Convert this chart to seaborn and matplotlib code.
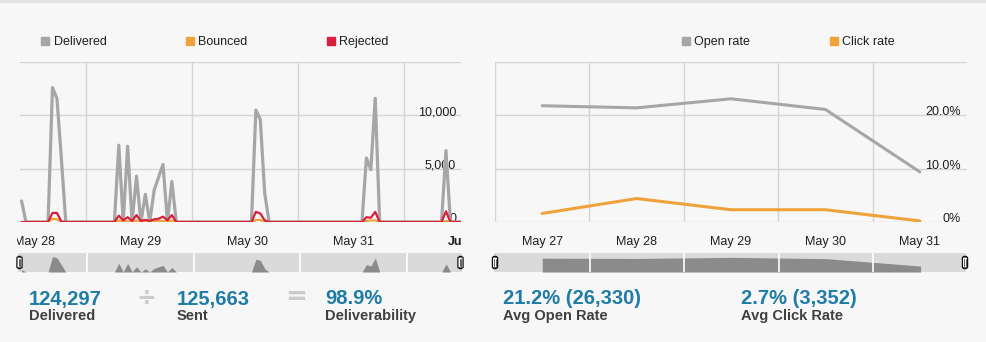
import matplotlib
matplotlib.use("Agg")
import matplotlib.pyplot as plt
import seaborn as sns
import numpy as np
import pandas as pd
from matplotlib.lines import Line2D
from matplotlib.patches import Rectangle, FancyBboxPatch
from matplotlib.transforms import Bbox, TransformedBbox

# ---------------- data ----------------
# hours relative to May 28 00:00 (hourly samples)
hours = list(range(-3, 98))
delivered = [
    1970, 0, 0,                                                            # May 27 21-23h
    0, 0, 0, 0, 12600, 11600, 6000, 0, 0, 0, 0, 0,                         # May 28 0-11
    0, 0, 0, 0, 0, 0, 0, 7200, 0, 7100, 0, 4300,                           # May 28 12-23
    0, 2600, 0, 3000, 4200, 5400, 0, 3800, 0, 0, 0, 0,                     # May 29 0-11
    0, 0, 0, 0, 0, 0, 0, 0, 0, 0, 0, 0,                                    # May 29 12-23
    0, 0, 10500, 9600, 2700, 0, 0, 0, 0, 0, 0, 0,                          # May 30 0-11
    0, 0, 0, 0, 0, 0, 0, 0, 0, 0, 0, 0,                                    # May 30 12-23
    0, 0, 0, 6000, 4900, 11600, 0, 0, 0, 0, 0, 0,                          # May 31 0-11
    0, 0, 0, 0, 0, 0, 0, 0, 0, 6700, 0, 0,                                 # May 31 12-23
    0, 0,                                                                  # Jun 1
]
bounced = [
    0, 0, 0,
    0, 0, 0, 0, 300, 250, 0, 0, 0, 0, 0, 0,
    0, 0, 0, 0, 0, 0, 0, 150, 0, 80, 0, 150,
    0, 80, 0, 80, 80, 100, 0, 150, 0, 0, 0, 0,
    0, 0, 0, 0, 0, 0, 0, 0, 0, 0, 0, 0,
    0, 0, 200, 200, 0, 0, 0, 0, 0, 0, 0, 0,
    0, 0, 0, 0, 0, 0, 0, 0, 0, 0, 0, 0,
    0, 0, 0, 100, 150, 150, 0, 0, 0, 0, 0, 0,
    0, 0, 0, 0, 0, 0, 0, 0, 0, 100, 0, 0,
    0, 0,
]
rejected = [
    0, 0, 0,
    0, 0, 0, 0, 850, 850, 50, 0, 0, 0, 0, 0,
    0, 0, 0, 0, 0, 0, 0, 600, 150, 450, 100, 650,
    100, 200, 100, 250, 300, 500, 150, 650, 0, 0, 0, 0,
    0, 0, 0, 0, 0, 0, 0, 0, 0, 0, 0, 0,
    0, 0, 950, 800, 150, 0, 0, 0, 0, 0, 0, 0,
    0, 0, 0, 0, 0, 0, 0, 0, 0, 0, 0, 0,
    0, 0, 0, 450, 400, 950, 0, 0, 0, 0, 0, 0,
    0, 0, 0, 0, 0, 0, 0, 0, 0, 1000, 0, 0,
    0, 0,
]
day_ticks = [0, 24, 48, 72, 96]
day_labels = ["May 28", "May 29", "May 30", "May 31", "Jun"]
count_ticks = [0, 5000, 10000]
count_labels = ["0", "5,000", "10,000"]

rate_days = ["May 27", "May 28", "May 29", "May 30", "May 31"]
open_rate = [21.8, 21.4, 23.1, 21.1, 9.4]
click_rate = [1.6, 4.4, 2.3, 2.3, 0.2]
rate_ticks = [0, 10, 20]
rate_labels = ["0%", "10.0%", "20.0%"]

stats_left = [("124,297", "Delivered"), ("125,663", "Sent"), ("98.9%", "Deliverability")]
stats_right = [("21.2% (26,330)", "Avg Open Rate"), ("2.7% (3,352)", "Avg Click Rate")]

# ---------------- style ----------------
sns.set_theme(style="white")
plt.rcParams["font.family"] = ["Liberation Sans", "DejaVu Sans"]

GREY = "#a6a6a6"
ORANGE = "#f0a23a"
RED = "#d71f3e"
GRID = "#d4d4d4"
BG = "#f7f7f7"
BLUE = "#1f7ca6"
LABEL = "#404040"
TXT = "#1e1e1e"

W, H = 986, 342
fig = plt.figure(figsize=(W / 100, H / 100), dpi=100)
fig.patch.set_facecolor(BG)
fig.add_artist(Rectangle((0, 1 - 3 / H), 1, 3 / H, transform=fig.transFigure,
                         color="#e3e3e3", lw=0))


def rect(l, t, r, b):
    return [l / W, 1 - b / H, (r - l) / W, (b - t) / H]


def fx(px):
    return px / W


def fy(py):
    return 1 - py / H


# ---------------- left chart ----------------
df_counts = pd.DataFrame({"hour": hours, "Delivered": delivered,
                          "Bounced": bounced, "Rejected": rejected})
ax1 = fig.add_axes(rect(20, 62, 461, 222))
ax1.set_facecolor("none")
for s in ax1.spines.values():
    s.set_visible(False)
ax1.set_xlim(-3.35, 96.4)
ax1.set_ylim(0, 15000)
for yv in [5000, 10000, 15000]:
    ax1.axhline(yv, color=GRID, lw=1, zorder=0)
for xv in [11.5, 35.5, 59.5, 83.5]:
    ax1.axvline(xv, color=GRID, lw=1, zorder=0)

sns.lineplot(data=df_counts, x="hour", y="Delivered", ax=ax1, color=GREY, lw=2.3)
sns.lineplot(data=df_counts, x="hour", y="Bounced", ax=ax1, color=ORANGE, lw=1.6)
sns.lineplot(data=df_counts, x="hour", y="Rejected", ax=ax1, color=RED, lw=1.6)
for ln in ax1.lines[-3:]:
    ln.set_clip_on(True)
ax1.set_xlabel("")
ax1.set_ylabel("")
ax1.set_xticks(day_ticks)
ax1.set_xticklabels(day_labels, fontsize=9, color=TXT)
ax1.get_xticklabels()[-1].set_fontweight("bold")
ax1.tick_params(axis="x", length=0, pad=10)
ax1.yaxis.tick_right()
ax1.set_yticks(count_ticks)
ax1.set_yticklabels(count_labels, fontsize=9, color=TXT, ha="right", va="baseline")
ax1.tick_params(axis="y", length=0, pad=-3.6)

clip = TransformedBbox(Bbox.from_extents(fx(17), 0, fx(462), 1), fig.transFigure)
for lab in ax1.get_xticklabels():
    lab.set_clip_on(True)
    lab.set_clip_box(clip)

h1 = [Line2D([], [], marker="s", ls="none", color=c, markersize=5.2)
      for c in (GREY, ORANGE, RED)]
fig.legend(h1, ["Delivered", "Bounced", "Rejected"], ncol=3, frameon=False,
           loc="center left", bbox_to_anchor=(fx(41.5), fy(42)),
           bbox_transform=fig.transFigure, fontsize=9, handlelength=0.6,
           handletextpad=0.38, columnspacing=6.35, borderpad=0, borderaxespad=0,
           labelcolor=TXT)

# ---------------- right chart ----------------
df_rates = pd.DataFrame({"day": np.arange(len(rate_days)), "Open rate": open_rate,
                         "Click rate": click_rate})
ax2 = fig.add_axes(rect(495, 62, 967, 222))
ax2.set_facecolor("none")
for s in ax2.spines.values():
    s.set_visible(False)
ax2.set_xlim(-0.5, 4.5)
ax2.set_ylim(0, 30)
for yv in [0, 10, 20, 30]:
    ax2.axhline(yv, color=GRID, lw=1, zorder=0)
for xv in [-0.5, 0.5, 1.5, 2.5, 3.5]:
    ax2.axvline(xv, color=GRID, lw=1, zorder=0)
sns.lineplot(data=df_rates, x="day", y="Open rate", ax=ax2, color=GREY, lw=2.2)
sns.lineplot(data=df_rates, x="day", y="Click rate", ax=ax2, color=ORANGE, lw=2.2)
ax2.set_xlabel("")
ax2.set_ylabel("")
ax2.set_xticks(range(len(rate_days)))
ax2.set_xticklabels(rate_days, fontsize=9, color=TXT)
ax2.tick_params(axis="x", length=0, pad=10)
ax2.yaxis.tick_right()
ax2.set_yticks(rate_ticks)
ax2.set_yticklabels(rate_labels, fontsize=9, color=TXT, ha="right", va="baseline")
ax2.tick_params(axis="y", length=0, pad=-4.3)

h2 = [Line2D([], [], marker="s", ls="none", color=c, markersize=5.2)
      for c in (GREY, ORANGE)]
fig.legend(h2, ["Open rate", "Click rate"], ncol=2, frameon=False,
           loc="center left", bbox_to_anchor=(fx(682), fy(42)),
           bbox_transform=fig.transFigure, fontsize=9, handlelength=0.6,
           handletextpad=0.38, columnspacing=6.4, borderpad=0, borderaxespad=0,
           labelcolor=TXT)

# ---------------- navigators ----------------
NAVBG = "#dadada"
NAVFILL = "#8b8b8b"


def handle(xc):
    fig.add_artist(FancyBboxPatch((fx(xc - 2.6), fy(268.5)), fx(5.2) - fx(0), (fy(256.5) - fy(268.5)),
                                  boxstyle="round,pad=0,rounding_size=0.004",
                                  transform=fig.transFigure, facecolor="white",
                                  edgecolor="#111111", lw=0.9, zorder=10))
    for dx in (-0.8, 0.8):
        fig.add_artist(Line2D([fx(xc + dx)] * 2, [fy(266), fy(259)], transform=fig.transFigure,
                              color="#444444", lw=0.6, zorder=11))


nav1 = fig.add_axes(rect(18, 253, 462, 272))
nav1.set_facecolor(NAVBG)
for s in nav1.spines.values():
    s.set_visible(False)
nav1.set_xlim(-3.8, 96.6)
nav1.set_ylim(0, 15600)
nav1.fill_between(hours, delivered, color=NAVFILL, lw=0)
for xv in [11.8, 36.0, 60.0, 84.2]:
    nav1.axvline(xv, color="white", lw=1.2)
nav1.set_xticks([])
nav1.set_yticks([])
handle(19.5)
handle(460.5)

nav2 = fig.add_axes(rect(494, 253, 966, 272))
nav2.set_facecolor(NAVBG)
for s in nav2.spines.values():
    s.set_visible(False)
nav2.set_xlim(-0.51, 4.48)
nav2.set_ylim(0, 30)
nav2.fill_between(df_rates["day"], df_rates["Open rate"], color=NAVFILL, lw=0)
for xv in [0.5, 1.5, 2.5, 3.5]:
    nav2.axvline(xv, color="white", lw=1.2)
nav2.set_xticks([])
nav2.set_yticks([])
handle(495)
handle(965)

# ---------------- stats ----------------
for (num, lab), x in zip(stats_left, [29, 177, 325]):
    fig.text(fx(x), fy(299), num, fontsize=14.5, fontweight="bold", color=BLUE,
             ha="left", va="center")
    fig.text(fx(x), fy(316), lab, fontsize=10.5, fontweight="bold", color=LABEL,
             ha="left", va="center")
fig.text(fx(146), fy(298), "÷", fontsize=17, fontweight="bold", color="#cccccc",
         ha="center", va="center", family=["DejaVu Sans"])
fig.text(fx(296.5), fy(297), "=", fontsize=19, fontweight="bold", color="#cccccc",
         ha="center", va="center", family=["DejaVu Sans"])
for (num, lab), x in zip(stats_right, [503, 741]):
    fig.text(fx(x), fy(299), num, fontsize=14.5, fontweight="bold", color=BLUE,
             ha="left", va="center")
    fig.text(fx(x), fy(316), lab, fontsize=10.5, fontweight="bold", color=LABEL,
             ha="left", va="center")

fig.savefig("out.png", dpi=100, facecolor=BG)
